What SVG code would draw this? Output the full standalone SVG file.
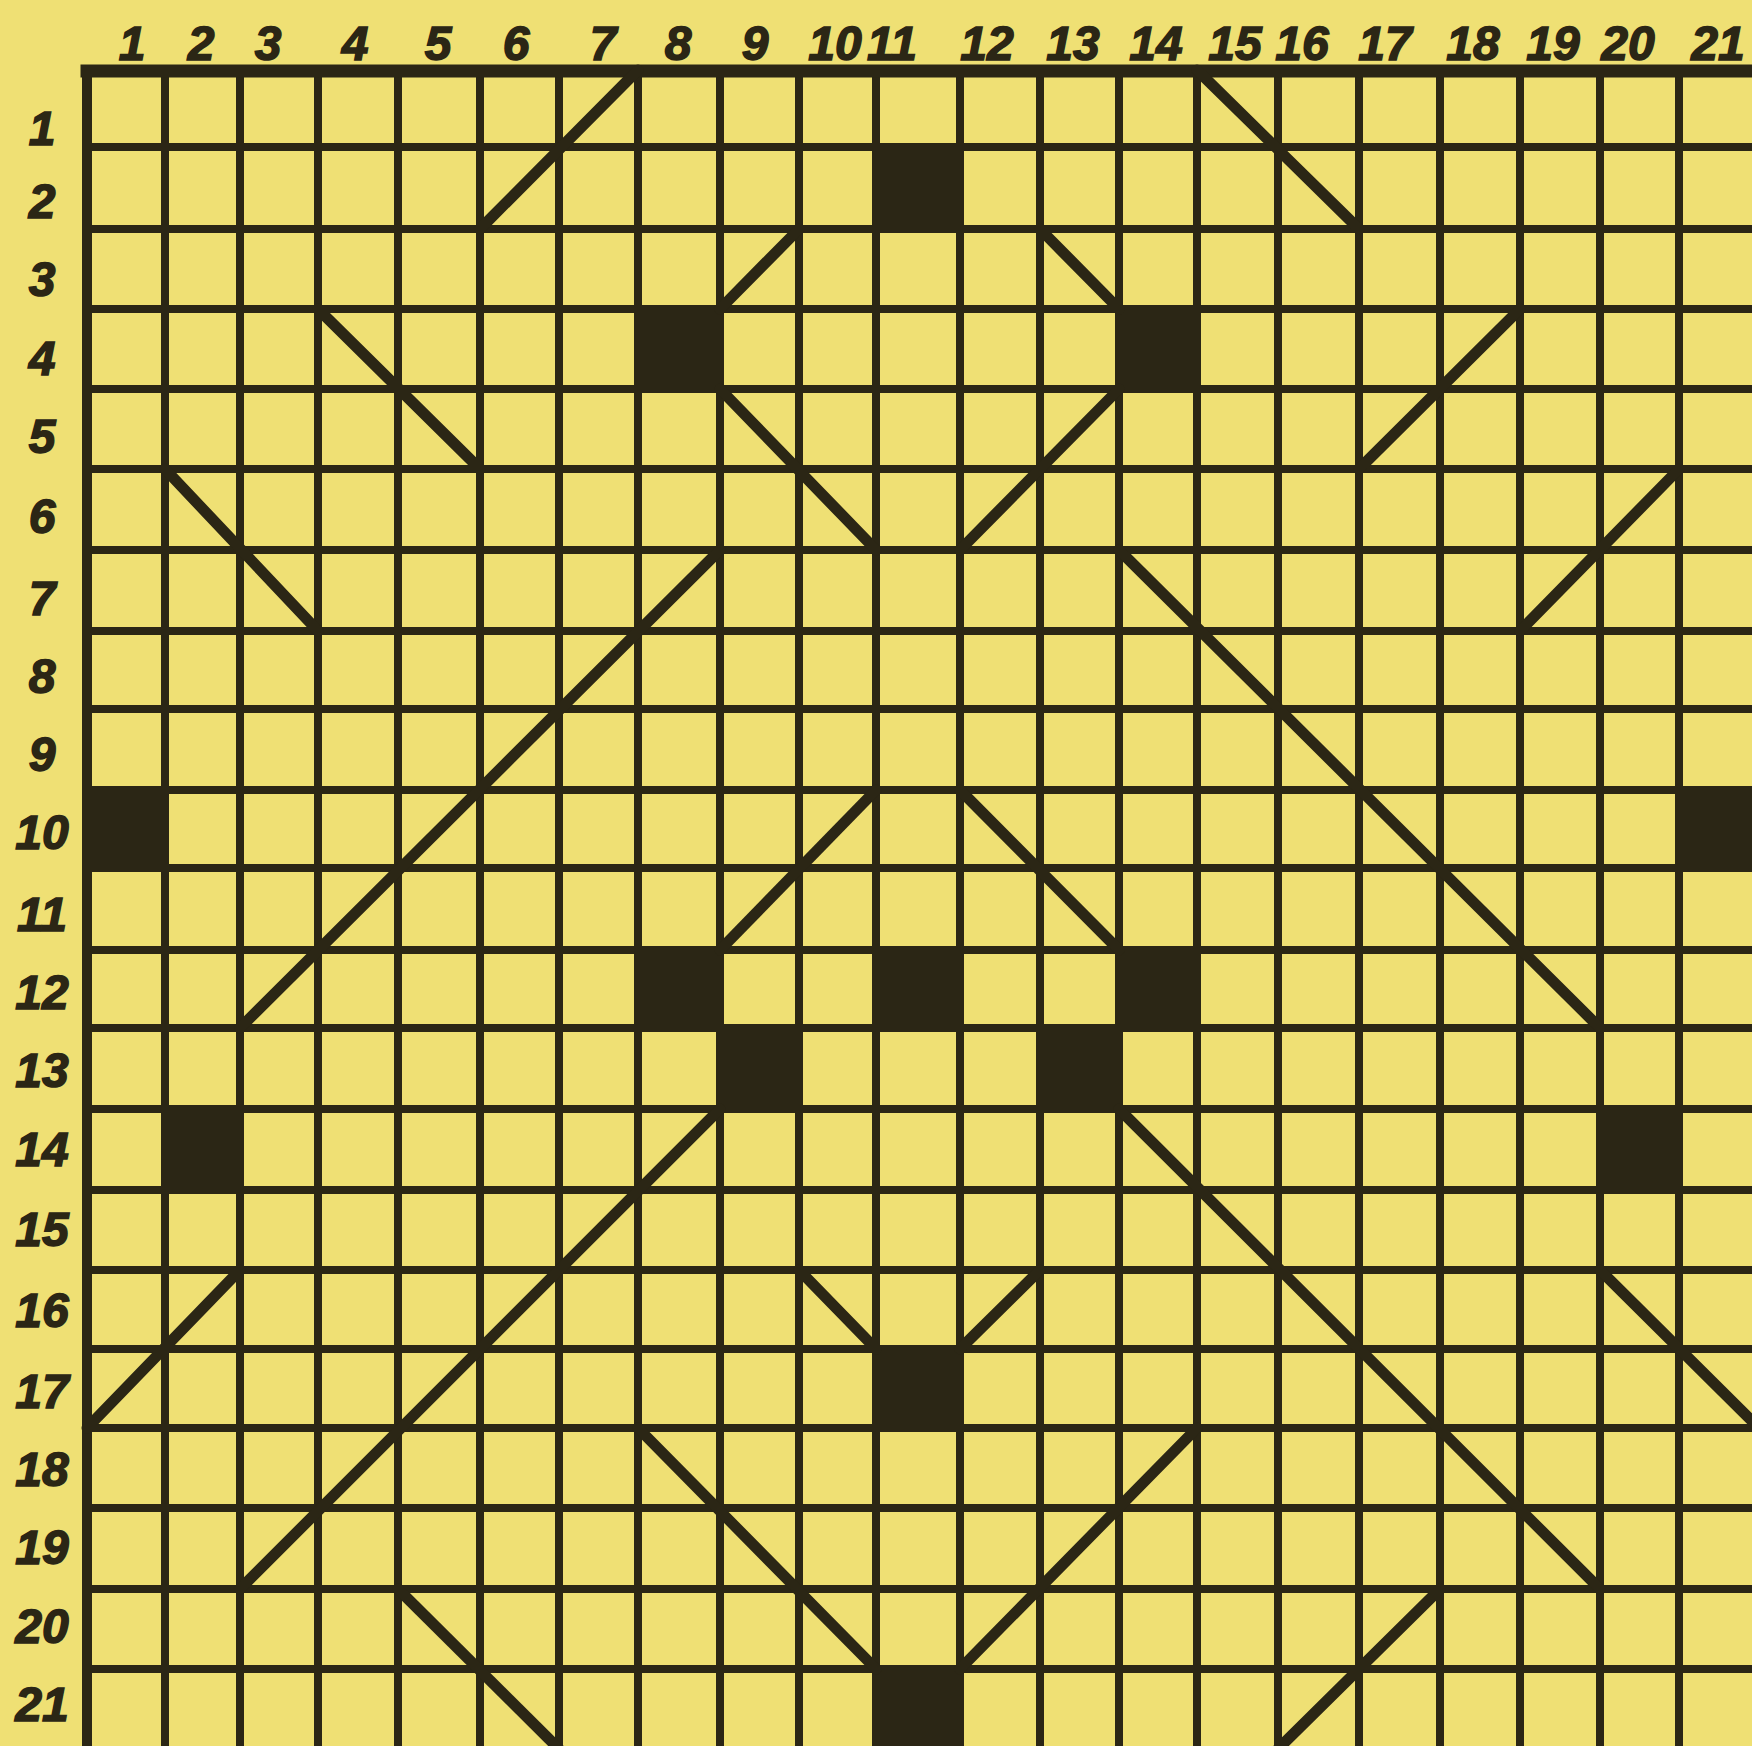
<svg xmlns="http://www.w3.org/2000/svg" width="1752" height="1746" viewBox="0 0 1752 1746">
<style>
.g{stroke:#2b2615;stroke-width:8;fill:none;stroke-linecap:square}
.d{stroke:#2b2615;stroke-width:11;fill:none;stroke-linecap:round}
.f{fill:#2b2615}
.t{font-family:"Liberation Sans",Arial,sans-serif;font-weight:900;font-style:italic;font-size:48px;fill:#2b2615;text-anchor:middle;stroke:#2b2615;stroke-width:1.5}
</style>
<rect x="0" y="0" width="1752" height="1746" fill="#efe074"/>
<g id="grid" class="g">
<path d="M87 70V1752M165 70V1752M240 70V1752M318 70V1752M398 70V1752M480 70V1752M559 70V1752M638 70V1752M720 70V1752M799 70V1752M876 70V1752M960 70V1752M1040 70V1752M1119 70V1752M1197 70V1752M1278 70V1752M1359 70V1752M1440 70V1752M1520 70V1752M1600 70V1752M1679 70V1752"/>
<path d="M87 147H1756M87 229H1756M87 309H1756M87 389H1756M87 469H1756M87 550H1756M87 631H1756M87 709H1756M87 790H1756M87 868H1756M87 950H1756M87 1028H1756M87 1109H1756M87 1190H1756M87 1270H1756M87 1349H1756M87 1428H1756M87 1508H1756M87 1589H1756M87 1669H1756"/>
<path d="M87 71H1756" stroke-width="13"/>
<path d="M87 71V1752" stroke-width="10"/>
</g>
<g id="cells" class="f">
<rect x="876" y="147" width="84" height="82"/>
<rect x="638" y="309" width="82" height="80"/>
<rect x="1119" y="309" width="78" height="80"/>
<rect x="87" y="790" width="78" height="78"/>
<rect x="1679" y="790" width="80" height="78"/>
<rect x="638" y="950" width="82" height="78"/>
<rect x="876" y="950" width="84" height="78"/>
<rect x="1119" y="950" width="78" height="78"/>
<rect x="720" y="1028" width="79" height="81"/>
<rect x="1040" y="1028" width="79" height="81"/>
<rect x="165" y="1109" width="75" height="81"/>
<rect x="1600" y="1109" width="79" height="81"/>
<rect x="876" y="1349" width="84" height="79"/>
<rect x="876" y="1669" width="84" height="80"/>
</g>
<g id="diagonals" class="d">
<path d="M638 70L480 229"/>
<path d="M1197 70L1359 229"/>
<path d="M799 229L720 309"/>
<path d="M1040 229L1119 309"/>
<path d="M318 309L480 469"/>
<path d="M1520 309L1359 469"/>
<path d="M720 389L876 550"/>
<path d="M1119 389L960 550"/>
<path d="M165 469L318 631"/>
<path d="M1679 469L1520 631"/>
<path d="M720 550L240 1028"/>
<path d="M1119 550L1600 1028"/>
<path d="M876 790L720 950"/>
<path d="M960 790L1119 950"/>
<path d="M720 1109L240 1589"/>
<path d="M1119 1109L1600 1589"/>
<path d="M240 1270L87 1428"/>
<path d="M1600 1270L1759 1428"/>
<path d="M799 1270L876 1349"/>
<path d="M1040 1270L960 1349"/>
<path d="M638 1428L876 1669"/>
<path d="M1197 1428L960 1669"/>
<path d="M398 1589L559 1749"/>
<path d="M1440 1589L1278 1749"/>
</g>
<g id="col-labels" class="t">
<text x="132" y="60">1</text>
<text x="201" y="60">2</text>
<text x="268" y="60">3</text>
<text x="355" y="60">4</text>
<text x="438" y="60">5</text>
<text x="516" y="60">6</text>
<text x="603" y="60">7</text>
<text x="678" y="60">8</text>
<text x="755" y="60">9</text>
<text x="835" y="60">10</text>
<text x="892" y="60">11</text>
<text x="987" y="60">12</text>
<text x="1073" y="60">13</text>
<text x="1156" y="60">14</text>
<text x="1235" y="60">15</text>
<text x="1302" y="60">16</text>
<text x="1385" y="60">17</text>
<text x="1473" y="60">18</text>
<text x="1553" y="60">19</text>
<text x="1628" y="60">20</text>
<text x="1718" y="60">21</text>
</g>
<g id="row-labels" class="t">
<text x="42" y="145">1</text>
<text x="42" y="218">2</text>
<text x="42" y="296">3</text>
<text x="42" y="375">4</text>
<text x="42" y="453">5</text>
<text x="42" y="533">6</text>
<text x="42" y="615">7</text>
<text x="42" y="693">8</text>
<text x="42" y="771">9</text>
<text x="42" y="849">10</text>
<text x="42" y="931">11</text>
<text x="42" y="1009">12</text>
<text x="42" y="1087">13</text>
<text x="42" y="1166">14</text>
<text x="42" y="1246">15</text>
<text x="42" y="1327">16</text>
<text x="42" y="1408">17</text>
<text x="42" y="1486">18</text>
<text x="42" y="1564">19</text>
<text x="42" y="1643">20</text>
<text x="42" y="1721">21</text>
</g>
</svg>
